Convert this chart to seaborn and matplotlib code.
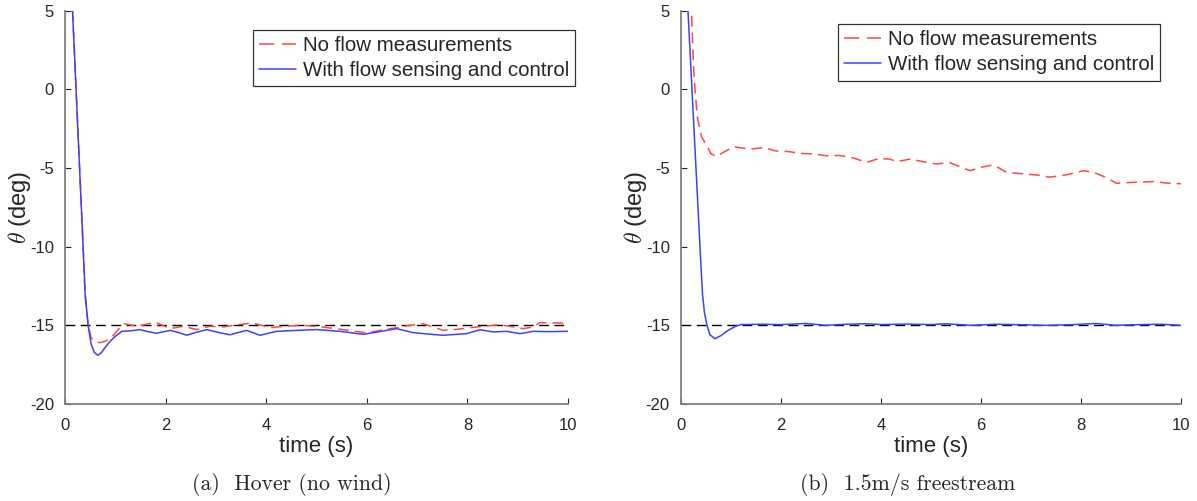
import matplotlib
matplotlib.use("Agg")
import matplotlib.pyplot as plt
import seaborn as sns
import pandas as pd

# ---- data ----
labels = ["No flow measurements", "With flow sensing and control"]
ref_level = -15
x_ticks = [0, 2, 4, 6, 8, 10]
y_ticks = [-20, -15, -10, -5, 0, 5]
captions = ["(a)  Hover (no wind)", "(b)  1.5m/s freestream"]

# (a) hover, no flow measurements
hover_nf_t = [0.15, 0.22, 0.29, 0.36, 0.40, 0.46, 0.52, 0.60, 0.70, 0.80, 0.90, 1.00,
              1.10, 1.19, 1.42, 1.60, 1.79, 2.09, 2.35, 2.62, 2.88, 3.15, 3.45, 3.74,
              4.07, 4.40, 4.74, 5.10, 5.53, 6.00, 6.30, 6.59, 6.85, 7.12, 7.52, 7.80,
              8.05, 8.35, 8.65, 9.11, 9.30, 9.44, 9.84, 10.0]
hover_nf = [5.0, 0.0, -5.0, -10.0, -13.0, -15.0, -15.8, -16.05, -16.1, -16.0, -15.84, -15.5,
            -15.1, -14.9, -15.06, -14.95, -14.79, -15.21, -15.06, -15.27, -15.06, -15.1, -14.95, -14.85,
            -15.15, -15.05, -15.0, -15.1, -15.27, -15.48, -15.3, -15.15, -15.0, -14.9, -15.32, -15.25,
            -15.15, -15.05, -14.96, -15.21, -15.1, -14.83, -14.85, -14.9]

# (a) hover, with flow sensing and control
hover_fs_t = [0.15, 0.22, 0.29, 0.36, 0.40, 0.46, 0.52, 0.58, 0.65, 0.72, 0.80, 0.90,
              1.00, 1.13, 1.30, 1.49, 1.65, 1.82, 2.09, 2.25, 2.42, 2.60, 2.82, 3.05,
              3.28, 3.45, 3.61, 3.88, 4.05, 4.21, 4.60, 5.00, 5.47, 5.93, 6.25, 6.59,
              6.92, 7.20, 7.52, 7.98, 8.25, 8.52, 8.78, 9.05, 9.31, 9.60, 10.0]
hover_fs = [5.0, 0.0, -5.0, -10.0, -13.0, -15.0, -16.2, -16.7, -16.9, -16.75, -16.4, -16.0,
            -15.7, -15.38, -15.35, -15.27, -15.4, -15.5, -15.32, -15.45, -15.63, -15.45, -15.27, -15.45,
            -15.6, -15.45, -15.32, -15.63, -15.5, -15.38, -15.32, -15.27, -15.38, -15.57, -15.4, -15.21,
            -15.46, -15.55, -15.63, -15.53, -15.28, -15.42, -15.38, -15.53, -15.38, -15.4, -15.38]

# (b) 1.5 m/s freestream, no flow measurements
wind_nf_t = [0.20, 0.21, 0.25, 0.28, 0.33, 0.41, 0.52, 0.60, 0.71, 0.85, 1.05, 1.38,
             1.65, 1.91, 2.15, 2.38, 2.65, 2.91, 3.15, 3.38, 3.71, 3.95, 4.18, 4.31,
             4.58, 4.85, 5.11, 5.38, 5.78, 6.00, 6.25, 6.51, 6.91, 7.15, 7.38, 7.71,
             8.05, 8.25, 8.50, 8.71, 9.11, 9.45, 9.70, 10.0]
wind_nf = [6.0, 5.0, 1.5, 0.0, -1.8, -3.0, -3.6, -4.1, -4.26, -4.0, -3.65, -3.8,
           -3.7, -3.92, -3.95, -4.07, -4.1, -4.22, -4.2, -4.29, -4.64, -4.4, -4.43, -4.6,
           -4.43, -4.6, -4.74, -4.66, -5.17, -4.95, -4.8, -5.27, -5.39, -5.45, -5.58, -5.43,
           -5.17, -5.27, -5.6, -5.97, -5.9, -5.86, -5.95, -6.0]

# (b) 1.5 m/s freestream, with flow sensing and control
wind_fs_t = [0.14, 0.22, 0.30, 0.38, 0.43, 0.47, 0.52, 0.58, 0.68, 0.80, 0.95, 1.10,
             1.20, 1.60, 2.00, 2.50, 2.90, 3.30, 3.70, 4.00, 4.50, 5.00, 5.30, 5.80,
             6.30, 6.80, 7.30, 7.80, 8.30, 8.70, 9.20, 9.60, 10.0]
wind_fs = [5.0, 0.0, -5.0, -10.0, -13.0, -14.2, -15.0, -15.6, -15.85, -15.65, -15.3, -15.05,
           -14.95, -14.93, -14.95, -14.88, -15.0, -14.93, -14.9, -14.95, -14.92, -14.95, -14.9, -15.0,
           -14.93, -14.96, -15.0, -14.96, -14.88, -15.0, -14.95, -14.93, -15.0]

panels = [
    (hover_nf_t, hover_nf, hover_fs_t, hover_fs),
    (wind_nf_t, wind_nf, wind_fs_t, wind_fs),
]

sns.set_style("ticks")
plt.rcParams["font.family"] = ["Liberation Sans", "DejaVu Sans"]
plt.rcParams["mathtext.fontset"] = "cm"
plt.rcParams["axes.unicode_minus"] = False

fig = plt.figure(figsize=(11.97, 5.01), dpi=100)
ax_rects = [[0.0543, 0.1936, 0.4202, 0.785], [0.5689, 0.1936, 0.4177, 0.785]]
legend_anchor = [(1.014, 0.952), (0.958, 0.966)]
caption_x = [0.244, 0.758]

red = "#ff4545"
blue = "#4040ff"

for i, (t_nf, y_nf, t_fs, y_fs) in enumerate(panels):
    ax = fig.add_axes(ax_rects[i])
    df_nf = pd.DataFrame({"time": t_nf, "theta": y_nf})
    df_fs = pd.DataFrame({"time": t_fs, "theta": y_fs})
    ax.axhline(ref_level, color="black", lw=1.0, dashes=(7, 4), zorder=1)
    sns.lineplot(data=df_nf, x="time", y="theta", ax=ax, color=red, lw=1.1,
                 estimator=None, sort=False, label=labels[0])
    ax.lines[-1].set_dashes((7, 4))
    sns.lineplot(data=df_fs, x="time", y="theta", ax=ax, color=blue, lw=1.1,
                 estimator=None, sort=False, label=labels[1])

    ax.set_xlim(0, 10)
    ax.set_ylim(-20, 5)
    ax.set_xticks(x_ticks)
    ax.set_yticks(y_ticks)
    ax.tick_params(direction="in", length=4, width=0.8, labelsize=12,
                   colors="#262626", pad=8)
    ax.tick_params(axis="x", pad=10)
    for side in ["top", "right"]:
        ax.spines[side].set_visible(False)
    for side in ["left", "bottom"]:
        ax.spines[side].set_color("#808080")
        ax.spines[side].set_linewidth(1.3)
    ax.set_xlabel("time (s)", fontsize=16, color="#262626", labelpad=2)
    ax.set_ylabel(r"$\theta$ (deg)", fontsize=17, color="#262626", labelpad=-2)

    leg = ax.legend(loc="upper right", bbox_to_anchor=legend_anchor[i],
                    frameon=True, fancybox=False, edgecolor="black",
                    fontsize=14.8, handlelength=1.8, handletextpad=0.3,
                    borderpad=0.3, labelspacing=0.3, borderaxespad=0)
    leg.get_frame().set_linewidth(0.9)
    leg.get_lines()[0].set_dashes((10, 5))

    fig.text(caption_x[i], 0.033, captions[i], ha="center", va="center",
             fontsize=15.7, family="cmr10")

fig.savefig("out.png", dpi=100)
